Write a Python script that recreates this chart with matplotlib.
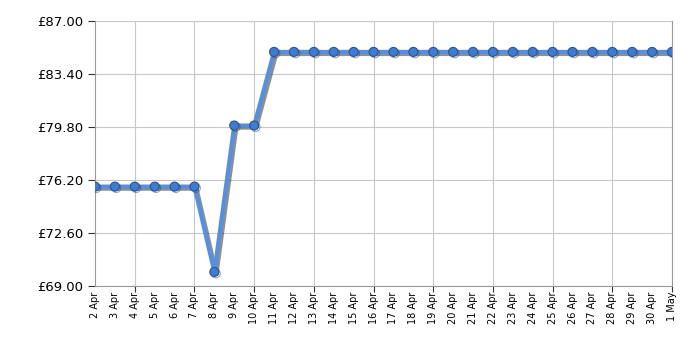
import matplotlib
matplotlib.use("Agg")
import matplotlib.pyplot as plt
import matplotlib.patheffects as pe
import numpy as np

# Price history, 2 Apr - 1 May
dates = ["2 Apr", "3 Apr", "4 Apr", "5 Apr", "6 Apr", "7 Apr", "8 Apr", "9 Apr",
         "10 Apr", "11 Apr", "12 Apr", "13 Apr", "14 Apr", "15 Apr", "16 Apr",
         "17 Apr", "18 Apr", "19 Apr", "20 Apr", "21 Apr", "22 Apr", "23 Apr",
         "24 Apr", "25 Apr", "26 Apr", "27 Apr", "28 Apr", "29 Apr", "30 Apr", "1 May"]
prices = [75.75, 75.75, 75.75, 75.75, 75.75, 75.75, 69.95, 79.90,
          79.90, 84.90, 84.90, 84.90, 84.90, 84.90, 84.90,
          84.90, 84.90, 84.90, 84.90, 84.90, 84.90, 84.90,
          84.90, 84.90, 84.90, 84.90, 84.90, 84.90, 84.90, 84.90]
y_ticks = [69.00, 72.60, 76.20, 79.80, 83.40, 87.00]

fig = plt.figure(figsize=(7, 3.5), dpi=100)
ax = fig.add_axes([0.1357, 0.183, 0.8243, 0.757])

x = np.arange(len(dates))
shadow = [pe.SimpleLineShadow(offset=(1.5, -1.5), shadow_color="#444444", alpha=0.6), pe.Normal()]
ax.plot(x, prices, color="#5590e0", linewidth=3, zorder=3, path_effects=shadow)
ax.plot(x, prices, linestyle="none", marker="o", markersize=6.5,
        markerfacecolor="#3f7bd0", markeredgecolor="#2a5590", markeredgewidth=0.8, zorder=4,
        path_effects=[pe.SimpleLineShadow(offset=(1, -1), shadow_color="#444444", alpha=0.5), pe.Normal()])

ax.set_xlim(0, len(dates) - 1)
ax.set_ylim(y_ticks[0], y_ticks[-1])

# gridlines + tick marks every third day (4 Apr, 7 Apr, ...), labels every day
major = [i for i in x if (i + 1) % 3 == 0]
ax.xaxis.remove_overlapping_locs = False
ax.set_xticks(major)
ax.set_xticklabels([])
ax.set_xticks(x, minor=True)
ax.set_xticklabels(dates, minor=True, rotation=90, fontsize=7)
ax.tick_params(axis="x", which="minor", length=0, pad=4)
ax.tick_params(axis="x", which="major", length=4, color="#333333")

ax.set_yticks(y_ticks)
ax.set_yticklabels([f"£{v:.2f}" for v in y_ticks], fontsize=9.5)
ax.tick_params(axis="y", length=5, color="#333333")

ax.grid(True, which="major", color="#c8c8c8", linewidth=0.8)
ax.set_axisbelow(True)
for side in ["left", "bottom", "right", "top"]:
    ax.spines[side].set_color("#999999")
ax.spines["top"].set_visible(False)

fig.savefig("out.png", dpi=100, facecolor="white")
